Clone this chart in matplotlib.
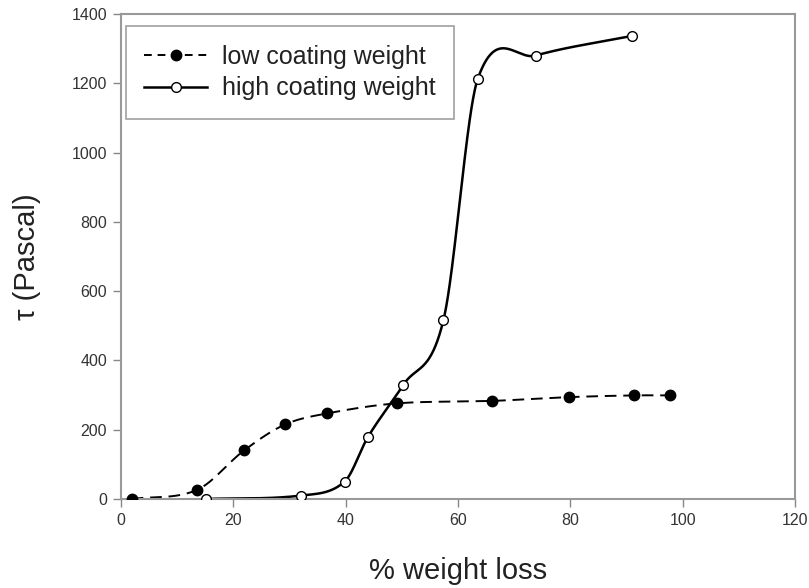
import numpy as np
import matplotlib
matplotlib.use("Agg")
import matplotlib.pyplot as plt
from matplotlib.lines import Line2D

plt.rcParams['font.family'] = ['Liberation Sans', 'DejaVu Sans']

# Data
low_x = [1.9, 13.5, 21.9, 29.2, 36.7, 49.1, 66.0, 79.8, 91.4, 97.7]
low_y = [0, 26, 140, 215, 247, 276, 283, 294, 299, 299]
high_x = [15.1, 32.1, 39.8, 44.0, 50.2, 57.4, 63.5, 73.8, 91.0]
high_y = [0, 10, 50, 180, 328, 516, 1212, 1280, 1337]

x_ticks = [0, 20, 40, 60, 80, 100, 120]
y_ticks = [0, 200, 400, 600, 800, 1000, 1200, 1400]
x_label = "% weight loss"
y_label = "τ (Pascal)"
low_name = "low coating weight"
high_name = "high coating weight"


def smooth_curve(xs, ys, per_seg=60):
    """Cubic Hermite curve through the points (Catmull-Rom style tangents)."""
    xs = np.asarray(xs, float)
    ys = np.asarray(ys, float)
    m = len(xs)
    t = np.zeros(m)
    t[0] = (ys[1] - ys[0]) / (xs[1] - xs[0])
    t[-1] = (ys[-1] - ys[-2]) / (xs[-1] - xs[-2])
    for i in range(1, m - 1):
        t[i] = (ys[i + 1] - ys[i - 1]) / (xs[i + 1] - xs[i - 1])
    out_x, out_y = [], []
    for i in range(m - 1):
        h = xs[i + 1] - xs[i]
        s = np.linspace(0, 1, per_seg, endpoint=(i == m - 2))
        h00 = 2 * s**3 - 3 * s**2 + 1
        h10 = s**3 - 2 * s**2 + s
        h01 = -2 * s**3 + 3 * s**2
        h11 = s**3 - s**2
        out_x.append(xs[i] + s * h)
        out_y.append(h00 * ys[i] + h10 * h * t[i] + h01 * ys[i + 1] + h11 * h * t[i + 1])
    return np.concatenate(out_x), np.concatenate(out_y)


fig = plt.figure(figsize=(8.09, 5.88), dpi=100)
ax = fig.add_axes([0.1496, 0.1514, 0.8331, 0.8248])

lx, ly = smooth_curve(low_x, low_y)
hx, hy = smooth_curve(high_x, high_y)

ax.plot(lx, ly, color='black', lw=1.4, ls=(0, (6, 3.5)), zorder=2)
ax.plot(low_x, low_y, 'o', color='black', ms=7.5, zorder=3)
ax.plot(hx, hy, color='black', lw=1.8, zorder=2)
ax.plot(high_x, high_y, 'o', mfc='white', mec='black', mew=1.0, ms=7, zorder=4)

ax.set_xlim(0, 120)
ax.set_ylim(0, 1400)
ax.set_xticks(x_ticks)
ax.set_yticks(y_ticks)
ax.tick_params(direction='out', length=6, width=1, color='#888888',
               labelsize=11.5, labelcolor='#333333', pad=4)
for s in ax.spines.values():
    s.set_color('#999999')
    s.set_linewidth(1.5)

ax.set_xlabel(x_label, fontsize=21, color='#222222', labelpad=21)
ax.set_ylabel(y_label, fontsize=21, color='#222222', labelpad=22)

handles = [
    Line2D([], [], color='black', lw=1.4, ls=(0, (4, 3)), marker='o', ms=7.5, mfc='black'),
    Line2D([], [], color='black', lw=1.8, marker='o', ms=7, mfc='white', mec='black'),
]
leg = ax.legend(handles, [low_name, high_name], loc='upper left',
                bbox_to_anchor=(0.007, 0.975), borderaxespad=0, fontsize=18,
                fancybox=False, frameon=True, handlelength=2.5, handletextpad=0.6,
                labelspacing=0.3, borderpad=0.75)
leg.get_frame().set_edgecolor('#888888')
leg.get_frame().set_linewidth(1.2)
for t in leg.get_texts():
    t.set_color('#222222')

fig.savefig('out.png', dpi=100)
